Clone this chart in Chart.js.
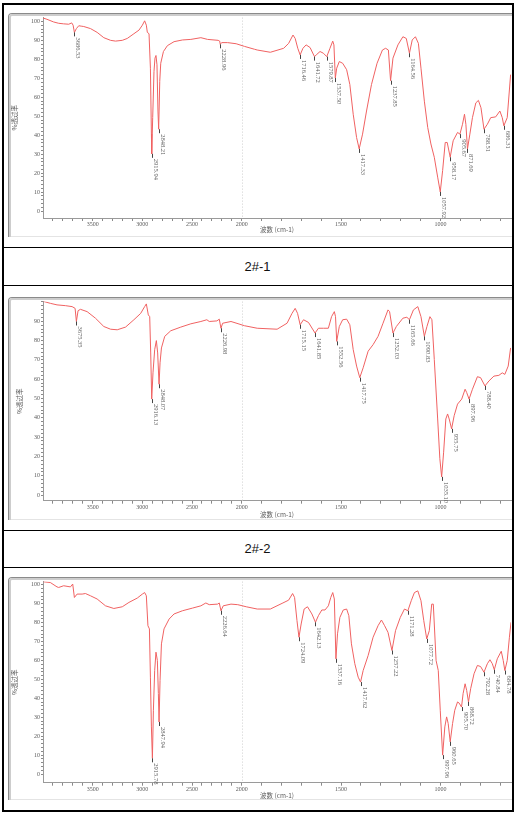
<!DOCTYPE html>
<html>
<head>
<meta charset="utf-8">
<script src="https://cdn.jsdelivr.net/npm/chart.js@4.4.0/dist/chart.umd.min.js"></script>
<style>
  html, body { margin: 0; padding: 0; background: #fff; }
  body { width: 516px; height: 815px; position: relative; overflow: hidden; font-family: "Liberation Sans", Arial, sans-serif; }
  .hl { position: absolute; left: 2px; width: 511.5px; height: 1.5px; background: #000; }
  .vl { position: absolute; top: 3px; width: 1.5px; height: 808.5px; background: #000; }
  .cap { position: absolute; left: 3px; width: 509px; text-align: center; font-size: 13px; color: #111; line-height: 16px; }
  .img { position: absolute; left: 8px; width: 504px; }
  .img canvas { position: absolute; left: 0; top: 0; }
  .frame { position: absolute; left: 0; top: 0; right: 0; bottom: 0; border-top: 1.5px solid #8a8a8a; border-left: 1.5px solid #8a8a8a; border-top-left-radius: 4px; }
  .frame::after { content: ''; position: absolute; left: 0; top: 0; right: 0; bottom: 0; border-top: 2px solid #cdcdcd; border-left: 2px solid #cdcdcd; border-top-left-radius: 3px; }
  .base { position: absolute; left: 0; right: 0; bottom: 0; height: 1px; background: #e4e4e4; }
</style>
</head>
<body>
  <div class="hl" style="top:3px"></div>
  <div class="hl" style="top:246.5px"></div>
  <div class="hl" style="top:284.5px"></div>
  <div class="hl" style="top:529.5px"></div>
  <div class="hl" style="top:566.5px"></div>
  <div class="hl" style="top:810px"></div>
  <div class="vl" style="left:2px"></div>
  <div class="vl" style="left:512px"></div>

  <div class="img" style="top:13px;height:224px"><canvas id="c1" width="504" height="224"></canvas><div class="base"></div><div class="frame"></div></div>
  <div class="cap" style="top:258.5px">2#-1</div>
  <div class="img" style="top:297px;height:223px"><canvas id="c2" width="504" height="223"></canvas><div class="base"></div><div class="frame"></div></div>
  <div class="cap" style="top:540.5px">2#-2</div>
  <div class="img" style="top:577px;height:223px"><canvas id="c3" width="504" height="223"></canvas><div class="base"></div><div class="frame"></div></div>

<script>
/* IR spectra, %T vs wavenumber (split scale at 2000 cm-1) */

// axis labels
const xTickLabels = [3500, 3000, 2500, 2000, 1500, 1000];
const yLabels1 = [0, 10, 20, 30, 40, 50, 60, 70, 80, 90, 100];
const yLabels2 = [0, 10, 20, 30, 40, 50, 60, 70, 80, 90];
const yLabels3 = [0, 10, 20, 30, 40, 50, 60, 70, 80, 90, 100];
const X_TITLE = '波数 (cm-1)';
const Y_TITLE = '%透过率';

// 2#-1
const wn1 = [4000, 3960, 3893, 3842, 3792, 3741, 3711, 3697, 3684, 3664, 3640, 3616, 3590, 3522, 3455, 3388, 3320, 3270, 3202, 3152,
  3085, 3034, 3000, 2977, 2960, 2950, 2933, 2919, 2909, 2906, 2896, 2883, 2873, 2863, 2853, 2843, 2836, 2825, 2815, 2788,
  2748, 2681, 2596, 2512, 2411, 2344, 2237, 2222, 2216, 2202, 2142, 2056, 1986, 1936, 1922, 1856, 1789, 1764, 1742, 1731,
  1718, 1706, 1692, 1676, 1656, 1634, 1622, 1606, 1589, 1572, 1556, 1542, 1536, 1529, 1522, 1509, 1492, 1472, 1456, 1439,
  1422, 1409, 1392, 1372, 1347, 1319, 1292, 1276, 1262, 1251, 1239, 1214, 1189, 1172, 1156, 1142, 1126, 1111, 1098, 1081,
  1064, 1048, 1031, 1014, 1001, 989, 976, 966, 951, 936, 914, 902, 889, 879, 872, 864, 852, 839, 822, 809,
  796, 781, 764, 747, 722, 701, 689, 681, 664, 647];
const tr1 = [101.9, 101.2, 99.8, 99.1, 98.8, 98.6, 99.3, 98.1, 94.3, 96.3, 97.8, 97.6, 97.4, 96.3, 94.3, 91.5, 90.1, 89.7, 90.1, 91.1,
  93.6, 95.5, 98.1, 100.4, 98.1, 94.3, 93.6, 75.4, 40.6, 30.2, 49.3, 73.7, 80.7, 82.1, 77.2, 52.8, 43.2, 68.5, 78.0, 84.2,
  87.3, 89.4, 90.3, 90.6, 91.5, 90.6, 90.1, 89.7, 88.0, 88.9, 88.9, 88.3, 86.9, 85.4, 85.0, 83.8, 85.9, 88.5, 92.9, 91.1,
  85.9, 82.4, 85.9, 87.7, 86.3, 81.5, 82.7, 84.2, 83.3, 81.5, 85.9, 89.7, 87.7, 70.2, 75.4, 78.9, 78.0, 74.6, 66.8, 51.1,
  38.8, 32.8, 40.6, 52.8, 66.8, 78.0, 85.0, 85.9, 85.0, 68.8, 80.7, 87.7, 92.0, 91.1, 83.3, 90.3, 92.0, 88.5, 75.4, 58.0,
  44.1, 35.4, 28.4, 17.9, 10.1, 21.4, 36.2, 36.2, 28.4, 37.1, 41.5, 40.6, 45.8, 51.1, 45.8, 32.8, 40.6, 49.3, 57.1, 58.4,
  54.5, 43.2, 45.8, 49.3, 49.7, 52.8, 49.3, 45.0, 49.3, 72.0];
const peakWn1 = [3684, 2906, 2836, 2216, 1706, 1634, 1572, 1529, 1409, 1251, 1156, 1001, 951, 902, 864, 781, 681];
const peakTr1 = [94.3, 30.2, 43.2, 88.0, 82.4, 81.5, 81.5, 70.2, 32.8, 68.8, 83.3, 10.1, 28.4, 40.6, 32.8, 43.2, 45.0];
const peakTxt1 = ['3686.53', '2915.94', '2848.21', '2228.96', '1716.46', '1641.72', '1579.87', '1537.50', '1417.33',
  '1237.85', '1164.56', '1057.92', '958.17', '905.67', '871.69', '788.51', '686.31'];

// 2#-2
const wn2 = [3995, 3926, 3859, 3775, 3707, 3677, 3664, 3647, 3623, 3556, 3472, 3388, 3320, 3253, 3169, 3085, 3017, 2977, 2960, 2940,
  2926, 2916, 2906, 2893, 2876, 2859, 2846, 2832, 2822, 2808, 2775, 2714, 2613, 2512, 2411, 2351, 2327, 2250, 2226, 2209,
  2192, 2108, 1986, 1922, 1822, 1772, 1747, 1731, 1719, 1706, 1689, 1664, 1631, 1614, 1589, 1564, 1548, 1534, 1528, 1522,
  1509, 1492, 1472, 1456, 1439, 1422, 1406, 1389, 1364, 1339, 1314, 1289, 1264, 1256, 1239, 1222, 1189, 1169, 1156, 1136,
  1114, 1098, 1081, 1068, 1053, 1043, 1031, 1014, 1003, 994, 984, 973, 964, 956, 944, 931, 914, 893, 876, 868,
  856, 839, 814, 798, 776, 756, 731, 706, 689, 676, 659, 647];
const tr2 = [100.3, 99.3, 98.5, 98.1, 97.6, 96.7, 89.9, 95.5, 96.2, 95.0, 91.6, 87.3, 85.9, 85.6, 87.0, 90.8, 94.1, 97.6, 99.0, 93.3,
  92.4, 73.6, 49.7, 63.3, 75.3, 80.0, 73.6, 57.4, 68.5, 76.2, 82.2, 85.1, 87.0, 88.7, 89.9, 90.8, 89.9, 90.2, 91.1, 86.4,
  89.0, 89.9, 87.7, 86.4, 85.9, 89.0, 94.1, 96.7, 94.1, 88.2, 90.8, 89.4, 83.9, 86.4, 86.4, 86.4, 92.4, 95.0, 92.4, 79.6,
  87.3, 90.8, 91.1, 88.2, 75.3, 66.8, 60.8, 65.9, 74.5, 77.9, 82.2, 89.0, 95.9, 95.0, 83.9, 87.3, 91.6, 92.1, 90.8, 95.9,
  97.6, 92.4, 82.2, 87.3, 92.4, 90.8, 70.2, 39.4, 18.8, 9.4, 22.2, 39.4, 42.0, 39.4, 34.3, 41.1, 47.1, 49.7, 54.8, 53.1,
  49.7, 54.8, 61.3, 60.8, 56.5, 59.1, 61.6, 62.0, 63.3, 62.5, 66.8, 76.2];
const peakWn2 = [3664, 2906, 2832, 2209, 1706, 1631, 1522, 1406, 1239, 1156, 1081, 994, 944, 856, 776];
const peakTr2 = [89.9, 49.7, 57.4, 86.4, 88.2, 83.9, 79.6, 60.8, 83.9, 90.8, 82.2, 9.4, 34.3, 49.7, 56.5];
const peakTxt2 = ['3675.35', '2916.13', '2848.07', '2226.98', '1715.15', '1641.85', '1552.56', '1417.75', '1252.03',
  '1165.66', '1090.83', '1035.10', '955.75', '897.96', '788.40'];

// 2#-3
const wn3 = [3994, 3926, 3859, 3842, 3792, 3724, 3701, 3684, 3657, 3606, 3573, 3522, 3455, 3371, 3287, 3202, 3135, 3051, 3000, 2977,
  2960, 2944, 2929, 2919, 2909, 2899, 2889, 2876, 2863, 2849, 2839, 2832, 2822, 2808, 2782, 2731, 2681, 2596, 2495, 2411,
  2361, 2327, 2243, 2226, 2209, 2186, 2108, 2040, 1977, 1922, 1856, 1797, 1764, 1744, 1734, 1722, 1712, 1701, 1686, 1669,
  1647, 1629, 1614, 1597, 1581, 1564, 1552, 1542, 1534, 1526, 1518, 1506, 1489, 1472, 1461, 1448, 1431, 1414, 1402, 1389,
  1364, 1339, 1314, 1297, 1281, 1264, 1244, 1226, 1202, 1181, 1164, 1147, 1131, 1114, 1098, 1084, 1069, 1056, 1044, 1036,
  1022, 1011, 1001, 989, 978, 969, 961, 951, 939, 928, 914, 906, 894, 886, 876, 868, 859, 848, 831, 814,
  798, 781, 764, 751, 739, 729, 714, 694, 684, 676, 664, 653, 645];
const tr3 = [101.6, 101.2, 98.9, 98.6, 99.5, 98.9, 100.4, 93.3, 95.1, 95.1, 95.4, 94.2, 92.5, 88.9, 87.5, 88.4, 90.7, 93.0, 95.1, 95.9,
  94.2, 78.4, 76.7, 51.2, 24.9, 8.3, 33.7, 54.7, 64.4, 60.0, 42.5, 27.5, 49.5, 68.8, 76.7, 81.9, 84.6, 86.3, 87.7, 88.9,
  90.4, 89.5, 89.8, 90.4, 86.3, 88.9, 89.8, 89.5, 88.4, 87.2, 87.2, 90.2, 91.9, 95.4, 93.3, 81.1, 72.3, 79.3, 87.2, 88.4,
  84.6, 80.2, 83.7, 86.7, 86.7, 88.9, 93.3, 95.9, 92.5, 60.9, 74.1, 82.8, 86.7, 87.2, 83.7, 68.8, 58.3, 51.2, 48.6, 54.7,
  62.6, 72.3, 78.4, 81.4, 78.4, 74.9, 65.3, 75.8, 82.8, 87.2, 86.3, 91.6, 95.9, 96.8, 91.6, 81.1, 71.4, 75.8, 89.8, 89.8,
  60.0, 54.7, 33.7, 10.0, 24.9, 30.2, 26.7, 17.0, 26.7, 33.7, 38.1, 37.5, 35.4, 42.5, 47.7, 44.2, 38.1, 45.1, 53.0, 57.4,
  56.8, 53.8, 58.3, 60.4, 58.3, 55.1, 60.9, 64.9, 60.0, 54.7, 60.0, 72.3, 80.2];
const peakWn3 = [2899, 2832, 2209, 1712, 1629, 1526, 1402, 1244, 1164, 1069, 989, 951, 894, 859, 781, 729, 676];
const peakTr3 = [8.3, 27.5, 86.3, 72.3, 80.2, 60.9, 48.6, 65.3, 86.3, 71.4, 10.0, 17.0, 35.4, 38.1, 53.8, 55.1, 54.7];
const peakTxt3 = ['2915.78', '2847.94', '2226.64', '1724.09', '1642.13', '1537.16', '1417.62', '1257.22', '1171.28',
  '1077.72', '997.96', '960.65', '905.70', '868.72', '792.28', '740.84', '684.78'];

const WN_MIN = 645;
const LINE_COLOR = 'rgb(240, 98, 98)';
const TXT = '#5a5a5a';
const SERIF = '"Liberation Serif", "DejaVu Serif", serif';
const CJK = '"Noto Sans CJK SC", "Noto Sans", sans-serif';

// split wavenumber axis: 4000-2000 at half scale, 2000-400 at full scale
const uOf = (w) => (w >= 2000 ? (4000 - w) / 2 : 1000 + (2000 - w));
const wnOf = (u) => (u <= 1000 ? 4000 - 2 * u : 2000 - (u - 1000));

const minorWn = [];
for (let w = 3900; w >= 700; w -= 100) minorWn.push(w);
const yMinor = [];
for (let v = 0; v <= 100; v += 2) yMinor.push(v);

const peakPlugin = {
  id: 'peaks',
  beforeDatasetsDraw(chart) {
    const { ctx, chartArea: a, scales: { x } } = chart;
    const px = Math.round(x.getPixelForValue(uOf(2000))) + 0.5;
    ctx.save();
    ctx.strokeStyle = '#cfcfcf';
    ctx.lineWidth = 1;
    ctx.setLineDash([1, 2]);
    ctx.beginPath(); ctx.moveTo(px, a.top); ctx.lineTo(px, a.bottom); ctx.stroke();
    ctx.restore();
  },
  afterDatasetsDraw(chart, args, opts) {
    const { ctx, chartArea: a, scales: { x, y } } = chart;
    ctx.save();
    ctx.font = '6.5px ' + SERIF;
    ctx.fillStyle = TXT;
    ctx.strokeStyle = '#444';
    ctx.lineWidth = 1;
    opts.wn.forEach((w, i) => {
      const px = Math.round(x.getPixelForValue(uOf(w))) + 0.5;
      const py = y.getPixelForValue(opts.tr[i]);
      ctx.beginPath(); ctx.moveTo(px, py); ctx.lineTo(px, py + 4); ctx.stroke();
      ctx.save();
      ctx.translate(px + 3, py + 5);
      ctx.rotate(Math.PI / 2);
      ctx.textAlign = 'left';
      ctx.textBaseline = 'middle';
      ctx.fillText(opts.txt[i], 0, 0);
      ctx.restore();
    });
    // axis titles
    ctx.font = '6.5px ' + CJK;
    ctx.textAlign = 'center';
    ctx.textBaseline = 'middle';
    ctx.fillText(X_TITLE, (a.left + a.right) / 2, a.bottom + opts.xtDy);
    ctx.translate(opts.ytx, (a.top + a.bottom) / 2);
    ctx.rotate(-Math.PI / 2);
    ctx.fillText(Y_TITLE, 0, 0);
    ctx.restore();
  }
};

function makeChart(id, p) {
  const yLab = new Set(p.yLabels);
  return new Chart(document.getElementById(id), {
    type: 'line',
    data: {
      datasets: [{
        data: p.wn.map((w, i) => ({ x: uOf(w), y: p.tr[i] })),
        borderColor: LINE_COLOR, borderWidth: 1, pointRadius: 0, tension: 0, fill: false
      }]
    },
    options: {
      responsive: false, animation: false, devicePixelRatio: 1,
      layout: { padding: { left: 0, right: 1, top: p.padTop, bottom: 0 }, autoPadding: false },
      plugins: {
        legend: { display: false }, tooltip: { enabled: false },
        peaks: { wn: p.peakWn, tr: p.peakTr, txt: p.peakTxt, ytx: p.ytx, xtDy: p.xtDy }
      },
      scales: {
        x: {
          type: 'linear', min: 0, max: uOf(WN_MIN),
          afterBuildTicks: (s) => { s.ticks = minorWn.map((w) => ({ value: uOf(w) })); },
          afterFit: (s) => { s.height = p.xh; },
          ticks: {
            autoSkip: false, maxRotation: 0, padding: 0, color: TXT, font: { family: SERIF, size: 6 },
            callback: (v) => { const w = Math.round(wnOf(v)); return xTickLabels.includes(w) ? String(w) : ''; }
          },
          grid: { drawOnChartArea: false, tickLength: 3, tickColor: '#8a8a8a' },
          border: { color: '#9a9a9a', width: 1 }
        },
        y: {
          type: 'linear', min: p.min, max: p.max,
          afterBuildTicks: (s) => { s.ticks = yMinor.filter((v) => v <= p.max).map((v) => ({ value: v })); },
          afterFit: (s) => { s.width = 35; },
          ticks: {
            autoSkip: false, padding: 1, color: TXT, font: { family: SERIF, size: 6 },
            callback: (v) => (yLab.has(v) ? String(v) : '')
          },
          grid: { drawOnChartArea: false, tickLength: 2, tickColor: '#8a8a8a' },
          border: { color: '#9a9a9a', width: 1 }
        }
      }
    },
    plugins: [peakPlugin]
  });
}

makeChart('c1', { wn: wn1, tr: tr1, peakWn: peakWn1, peakTr: peakTr1, peakTxt: peakTxt1, yLabels: yLabels1,
  min: -3.66, max: 102.1, padTop: 2.7, xh: 19, ytx: 7, xtDy: 12 });
makeChart('c2', { wn: wn2, tr: tr2, peakWn: peakWn2, peakTr: peakTr2, peakTxt: peakTxt2, yLabels: yLabels2,
  min: -2.93, max: 100.2, padTop: 3, xh: 19.3, ytx: 12, xtDy: 14 });
makeChart('c3', { wn: wn3, tr: tr3, peakWn: peakWn3, peakTr: peakTr3, peakTxt: peakTxt3, yLabels: yLabels3,
  min: -4.58, max: 101.7, padTop: 3.7, xh: 17.3, ytx: 7, xtDy: 13 });
</script>
</body>
</html>
